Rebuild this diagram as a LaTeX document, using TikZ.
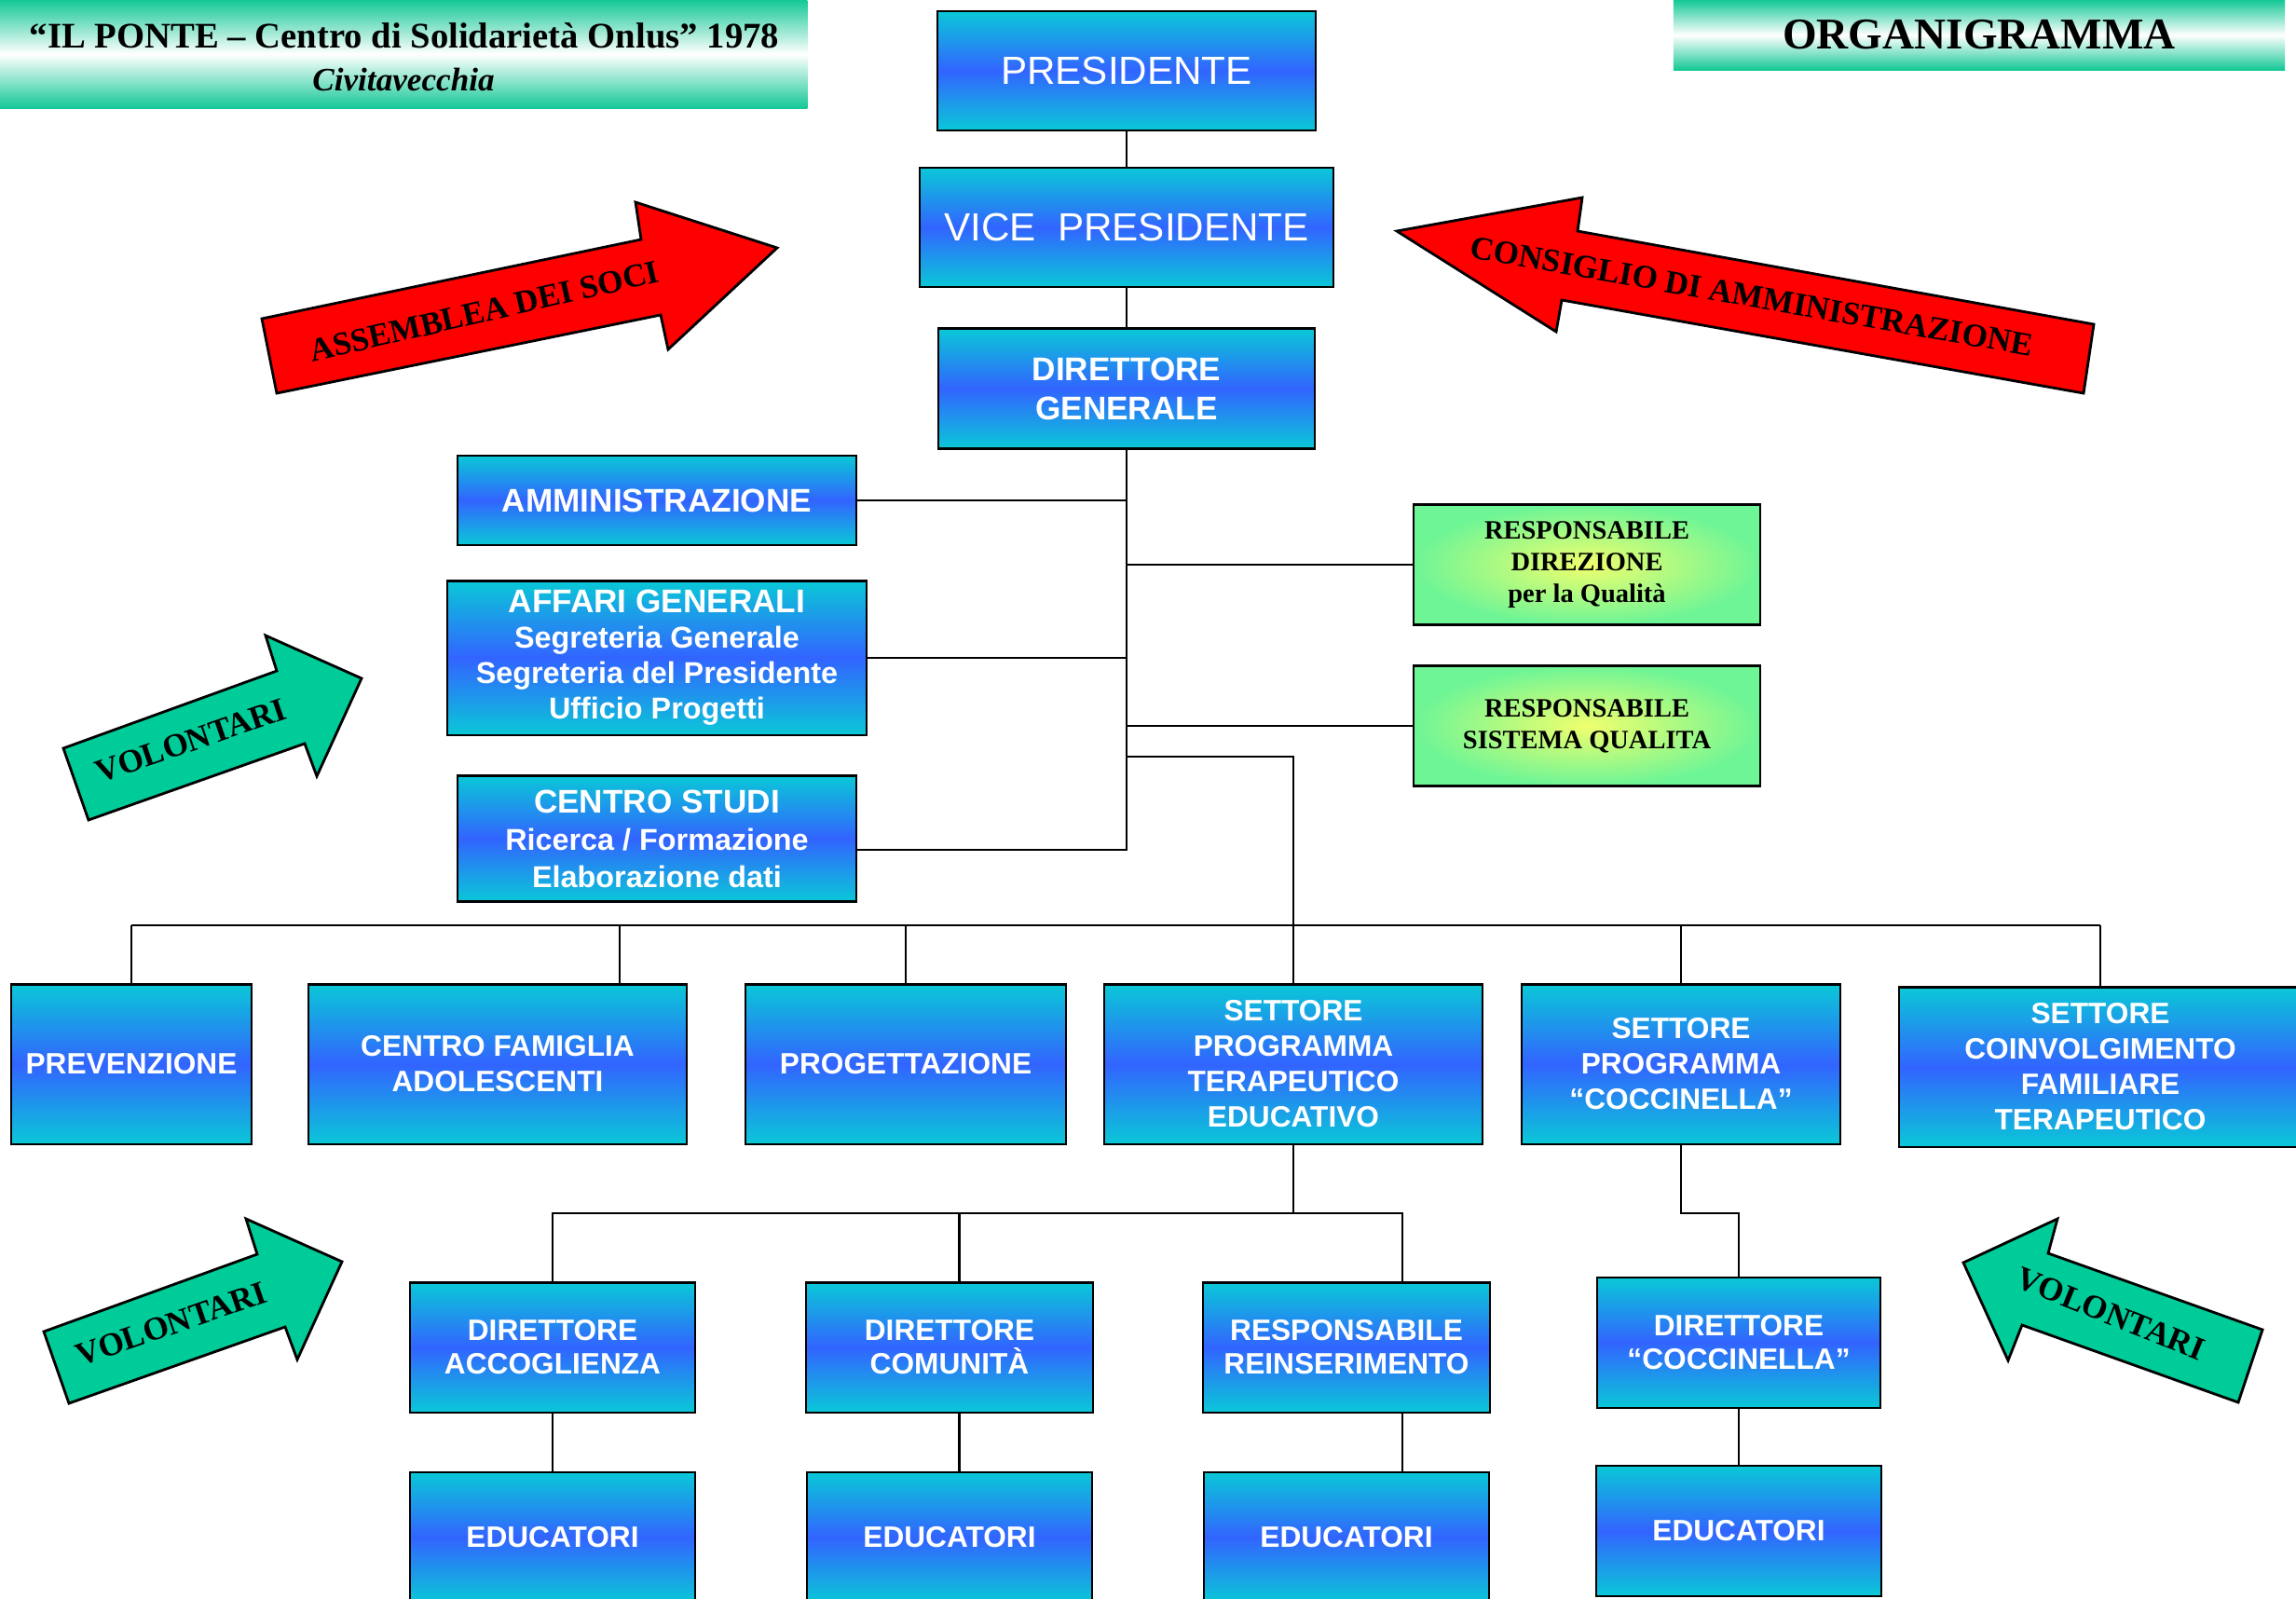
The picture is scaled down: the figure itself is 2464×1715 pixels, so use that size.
\documentclass[tikz,border=0pt]{standalone}
\usepackage{fontspec}
\setmainfont{Liberation Serif}
\newfontfamily\boxfont{Liberation Sans}
\definecolor{boxcyan}{RGB}{10,200,215}
\definecolor{boxblue}{RGB}{50,100,255}
\definecolor{qgreen}{RGB}{110,245,150}
\definecolor{qyellow}{RGB}{240,255,110}
\definecolor{hgreen}{RGB}{20,200,150}
\definecolor{agreen}{RGB}{0,204,153}
\tikzset{
  unit/.style={draw=black, line width=0.6pt, top color=boxcyan, bottom color=boxcyan,
    middle color=boxblue, text=white, align=center, inner sep=0pt,
    font=\boxfont\bfseries\fontsize{9}{10.8}\selectfont},
  quality/.style={draw=black, line width=0.6pt, inner color=qyellow, outer color=qgreen,
    align=center, inner sep=0pt, font=\bfseries\fontsize{8.1}{9.7}\selectfont},
  banner/.style={top color=hgreen, bottom color=hgreen, middle color=white, inner sep=0pt},
  wire/.style={line width=0.6pt},
  redarrow/.style={fill=red, draw=black, line width=0.8pt},
  greenarrow/.style={fill=agreen, draw=black, line width=0.8pt},
  arrowlabel/.style={font=\bfseries\fontsize{10}{12}\selectfont}
}
\begin{document}
\begin{tikzpicture}[x=0.01cm,y=-0.01cm]
\useasboundingbox (0,0) rectangle (2464,1715);

\node[banner, minimum width=8.66cm, minimum height=1.16cm] (band) at (433,58) {};
\node[font=\bfseries\fontsize{11}{13}\selectfont] (title) at (434,38) {“IL PONTE – Centro di Solidarietà Onlus” 1978};
\node[font=\bfseries\itshape\fontsize{10}{12}\selectfont] (city) at (433,85) {Civitavecchia};
\node[banner, minimum width=6.56cm, minimum height=0.75cm, font=\bfseries\fontsize{13.4}{16}\selectfont] (organ) at (2124,37.5) {ORGANIGRAMMA};

\draw[redarrow] (281,342) -- (688,257) -- (682,217) -- (834,266) -- (717,375) -- (709,338) -- (297,422) -- cycle;
\node[arrowlabel, rotate=13] (soci) at (520,334) {ASSEMBLEA DEI SOCI};
\draw[redarrow] (1499,248) -- (1698,212) -- (1693,248) -- (2247,348) -- (2236,422) -- (1676,322) -- (1670,356) -- cycle;
\node[arrowlabel, rotate=-10] (consiglio) at (1880,318) {CONSIGLIO DI AMMINISTRAZIONE};

\foreach \dx/\dy/\nm in {0/0/vola, -21/626/volb} {
  \begin{scope}[shift={(\dx,\dy)}]
    \draw[greenarrow] (68,803) -- (297,720) -- (285,682) -- (388,728) -- (340,833) -- (327,798) -- (95,880) -- cycle;
    \node[arrowlabel, rotate=19] (\nm) at (205,795) {VOLONTARI};
  \end{scope}
}
\draw[greenarrow] (2107,1355) -- (2208,1308) -- (2198,1345) -- (2428,1427) -- (2402,1505) -- (2170,1422) -- (2155,1460) -- cycle;
\node[arrowlabel, rotate=-22] (volc) at (2265,1410) {VOLONTARI};

\node[unit, font=\boxfont\fontsize{12}{14}\selectfont, minimum width=4.06cm, minimum height=1.28cm] (pres) at (1209,76) {PRESIDENTE};
\node[unit, font=\boxfont\fontsize{12}{14}\selectfont, minimum width=4.44cm, minimum height=1.28cm] (vice) at (1209,244) {VICE\ \ PRESIDENTE};
\node[unit, font=\boxfont\bfseries\fontsize{10}{12}\selectfont, minimum width=4.03cm, minimum height=1.29cm] (dirgen) at (1209,417) {DIRETTORE\\GENERALE};

\node[unit, font=\boxfont\bfseries\fontsize{10}{12}\selectfont, minimum width=4.27cm, minimum height=0.96cm] (ammin) at (705,537) {AMMINISTRAZIONE};
\node[unit, font=\boxfont\bfseries\fontsize{9.2}{10.8}\selectfont, minimum width=4.49cm, minimum height=1.65cm] (affari) at (705,706)
  {{\fontsize{10}{10.8}\selectfont AFFARI GENERALI}\\Segreteria Generale\\Segreteria del Presidente\\Ufficio Progetti};
\node[unit, font=\boxfont\bfseries\fontsize{9.2}{11.4}\selectfont, minimum width=4.27cm, minimum height=1.35cm] (studi) at (705,900)
  {{\fontsize{10}{11.4}\selectfont CENTRO STUDI}\\Ricerca / Formazione\\Elaborazione dati};

\node[quality, minimum width=3.71cm, minimum height=1.29cm] (respdir) at (1703,606) {RESPONSABILE\\DIREZIONE\\per la Qualità};
\node[quality, minimum width=3.71cm, minimum height=1.29cm] (respsis) at (1703,779) {RESPONSABILE\\SISTEMA QUALITA};

\node[unit, minimum width=2.58cm, minimum height=1.71cm] (prev) at (141,1142) {PREVENZIONE};
\node[unit, minimum width=4.05cm, minimum height=1.71cm] (famiglia) at (534,1142) {CENTRO FAMIGLIA\\ADOLESCENTI};
\node[unit, minimum width=3.43cm, minimum height=1.71cm] (progett) at (972,1142) {PROGETTAZIONE};
\node[unit, minimum width=4.05cm, minimum height=1.71cm] (terap) at (1388,1142) {SETTORE\\PROGRAMMA\\TERAPEUTICO\\EDUCATIVO};
\node[unit, minimum width=3.41cm, minimum height=1.71cm] (cocc) at (1804,1142) {SETTORE\\PROGRAMMA\\“COCCINELLA”};
\node[unit, minimum width=4.32cm, minimum height=1.71cm] (coinv) at (2254,1145) {SETTORE\\COINVOLGIMENTO\\FAMILIARE\\TERAPEUTICO};

\node[unit, font=\boxfont\bfseries\fontsize{9}{10.2}\selectfont, minimum width=3.05cm, minimum height=1.39cm] (accogl) at (593,1446) {DIRETTORE\\ACCOGLIENZA};
\node[unit, font=\boxfont\bfseries\fontsize{9}{10.2}\selectfont, minimum width=3.07cm, minimum height=1.39cm] (comun) at (1019,1446) {DIRETTORE\\COMUNITÀ};
\node[unit, font=\boxfont\bfseries\fontsize{9}{10.2}\selectfont, minimum width=3.07cm, minimum height=1.39cm] (reins) at (1445,1446) {RESPONSABILE\\REINSERIMENTO};
\node[unit, font=\boxfont\bfseries\fontsize{9}{10.2}\selectfont, minimum width=3.04cm, minimum height=1.40cm] (dircocc) at (1866,1441) {DIRETTORE\\“COCCINELLA”};

\foreach \nm/\x/\y in {edua/593/1650, edub/1019/1650, educ/1445/1650, edud/1866/1643}
  \node[unit, minimum width=3.06cm, minimum height=1.40cm] (\nm) at (\x,\y) {EDUCATORI};

\draw[wire] (pres.south) -- (vice.north);
\draw[wire] (vice.south) -- (dirgen.north);
\draw[wire] (dirgen.south) |- ([yshift=-0.12cm]studi.east);
\draw[wire] (ammin.east) -- (ammin.east -| dirgen.south);
\draw[wire] (affari.east) -- (affari.east -| dirgen.south);
\draw[wire] (respdir.west) -- (respdir.west -| dirgen.south);
\draw[wire] (respsis.west) -- (respsis.west -| dirgen.south);
\coordinate (fork) at (1209,812);
\draw[wire] (fork) -| (terap.north);

\coordinate (bus) at (0,993);
\coordinate (famtop) at ([xshift=1.31cm]famiglia.north);
\draw[wire] (prev.north |- bus) -- (coinv.north |- bus);
\foreach \nm in {prev,progett,cocc,coinv}
  \draw[wire] (\nm.north) -- (\nm.north |- bus);
\draw[wire] (famtop) -- (famtop |- bus);

\coordinate (bus2) at (0,1302);
\coordinate (comtop) at ([xshift=0.105cm]comun.north);
\coordinate (reitop) at ([xshift=0.6cm]reins.north);
\draw[wire] (terap.south) -- (terap.south |- bus2);
\draw[wire] (accogl.north) |- (reitop |- bus2) -- (reitop);
\draw[wire] (comtop) -- (comtop |- bus2);
\draw[wire] (cocc.south) |- (dircocc.north |- bus2) -- (dircocc.north);

\draw[wire] (accogl.south) -- (edua.north);
\draw[wire] ([xshift=0.105cm]comun.south) -- ([xshift=0.105cm]edub.north);
\draw[wire] ([xshift=0.6cm]reins.south) -- ([xshift=0.6cm]educ.north);
\draw[wire] (dircocc.south) -- (edud.north);
\end{tikzpicture}
\end{document}
